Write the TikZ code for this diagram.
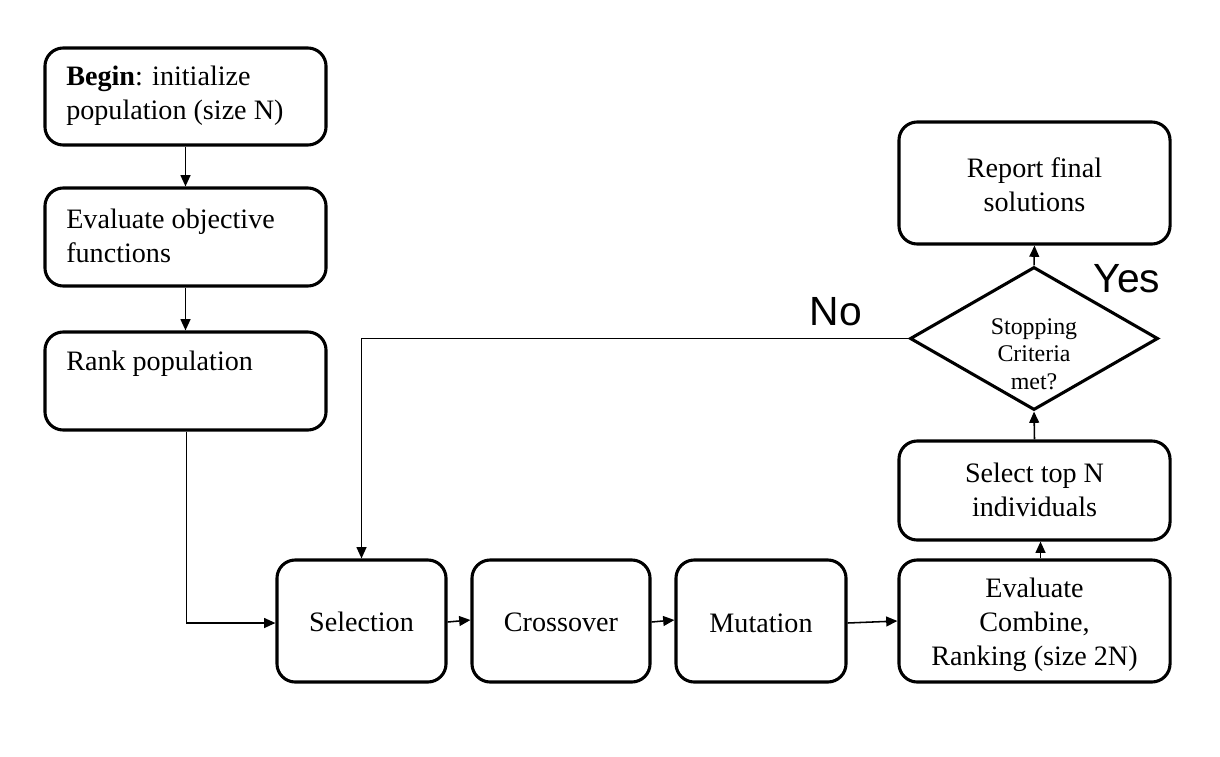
\documentclass[tikz,border=0pt]{standalone}
\usepackage{fontspec}
\setmainfont{Liberation Serif}
\newfontfamily\labelsans{Liberation Sans}
\usetikzlibrary{arrows.meta,shapes.geometric}
\begin{document}
\begin{tikzpicture}[x=0.025cm,y=-0.025cm,
  box/.style={draw,line width=2.2pt,rounded corners=13pt,inner sep=0pt},
  txt/.style={font=\fontsize{20}{24}\selectfont,inner sep=0pt,align=left,anchor=west},
  ctxt/.style={font=\fontsize{20}{24}\selectfont,inner sep=0pt,align=center},
  btxt/.style={font=\fontsize{20}{24}\selectfont,inner sep=0pt,anchor=base},
  flow/.style={line width=1.1pt,-{Triangle[length=8pt,width=7pt]}},
  yesno/.style={font=\labelsans\fontsize{29}{32}\selectfont,inner sep=0pt}]
\useasboundingbox (0,0) rectangle (1220,756);

% left column
\node[box,minimum width=7.025cm,minimum height=2.425cm] (begin) at (185.5,96.5) {};
\node[txt] (begint) at (66,96) {\textbf{Begin}: initialize\\population (size N)};
\node[box,minimum width=7.025cm,minimum height=2.45cm] (evalobj) at (185.5,237) {};
\node[txt] (evalobjt) at (66,236) {Evaluate objective\\functions};
\node[box,minimum width=7.025cm,minimum height=2.45cm] (rank) at (185.5,381) {};
\node[txt] (rankt) at (66,364) {Rank population};

% bottom row
\node[box,minimum width=4.225cm,minimum height=3.05cm] (sel) at (361.5,621) {};
\node[btxt] (selt) at (361.5,631) {Selection};
\node[box,minimum width=4.45cm,minimum height=3.05cm] (cross) at (561,621) {};
\node[btxt] (crosst) at (561,631) {Crossover};
\node[box,minimum width=4.25cm,minimum height=3.05cm] (mut) at (761,621) {};
\node[btxt] (mutt) at (761,632) {Mutation};
\node[box,minimum width=6.775cm,minimum height=3.05cm] (evalc) at (1034.5,621) {};
\node[ctxt] (evalct) at (1034.5,625) {Evaluate\\Combine,\\Ranking (size 2N)};

% right column
\node[box,minimum width=6.775cm,minimum height=2.475cm] (topn) at (1034.5,490.5) {};
\node[ctxt] (topnt) at (1034.5,490) {Select top N\\individuals};
\node[draw,line width=2.2pt,diamond,aspect=1.734,minimum width=6.2cm,minimum height=3.575cm,inner sep=0pt] (stop) at (1034,338.5) {};
\node[ctxt,font=\fontsize{17}{19.5}\selectfont] (stopt) at (1034,354) {Stopping\\Criteria\\met?};
\node[box,minimum width=6.775cm,minimum height=3.05cm] (report) at (1034.5,183) {};
\node[ctxt] (reportt) at (1034.5,185) {Report final\\solutions};

% connectors
\draw[flow] (begin.south) -- (evalobj.north);
\draw[flow] (evalobj.south) -- (rank.north);
\draw[flow] ([xshift=0.025cm]rank.south) |- ([yshift=-0.05cm]sel.west);
\draw[flow] ([yshift=-0.025cm]sel.east) -- ([yshift=0.025cm]cross.west);
\draw[flow] ([yshift=-0.025cm]cross.east) -- ([yshift=0.025cm]mut.west);
\draw[flow] ([yshift=-0.05cm]mut.east) -- (evalc.west);
\draw[flow] ([xshift=0.15cm]evalc.north) -- ([xshift=0.15cm]topn.south);
\draw[flow] (topn.north) -- (stop.south);
\draw[flow] (stop.north) -- (report.south);
\draw[flow] (stop.west) -| (sel.north);

% branch labels
\node[yesno] (no) at (836,312) {No};
\node[yesno] (yes) at (1127,279) {Yes};
\end{tikzpicture}
\end{document}
